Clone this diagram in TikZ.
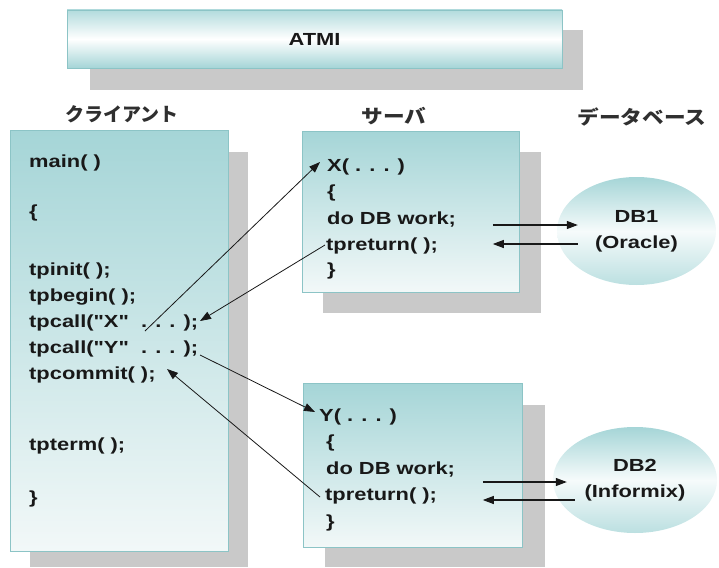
\documentclass[tikz,border=0pt]{standalone}
\usepackage{fontspec}
\setmainfont{Liberation Sans}
\newfontfamily\codefont{Liberation Sans}[FakeStretch=1.25]
\newfontfamily\jpfont{Noto Sans CJK JP}
\usetikzlibrary{arrows.meta,shapes.geometric,calc}

\definecolor{tealedge}{RGB}{140,196,198}
\definecolor{tealfill}{RGB}{165,213,215}
\definecolor{palefill}{RGB}{242,248,248}
\definecolor{shadowgray}{RGB}{201,201,201}
\definecolor{ink}{RGB}{24,24,24}

\begin{document}
\begin{tikzpicture}[x=1pt,y=-1pt,
  shadowbox/.style={fill=shadowgray,draw=none},
  panel/.style={rectangle,draw=tealedge,line width=0.7pt,inner sep=0pt,
    top color=tealfill,bottom color=palefill},
  banner/.style={rectangle,draw=tealedge,line width=0.7pt,inner sep=0pt,
    top color=tealfill!85,bottom color=tealfill,middle color=white,
    font=\codefont\bfseries\fontsize{17.5}{20}\selectfont,text=ink},
  dbnode/.style={ellipse,draw=none,inner sep=0pt,
    top color=tealfill,bottom color=tealfill!75,middle color=white!90!tealfill,
    align=center,font=\codefont\bfseries\fontsize{17.5}{26}\selectfont,text=ink},
  code/.style={anchor=base west,inner sep=0pt,
    font=\codefont\bfseries\fontsize{17.5}{20}\selectfont,text=ink},
  heading/.style={inner sep=0pt,font=\jpfont\bfseries\fontsize{19}{22}\selectfont,text=ink!90},
  link/.style={draw=ink,line width=0.8pt,-{Triangle[length=11pt,width=8pt]}},
  dblink/.style={link,line width=1.1pt},
]
\useasboundingbox (0,0) rectangle (719,567);

% shadows behind the boxes
\fill[shadowbox] (90,30) rectangle (583,90);
\fill[shadowbox] (30,152) rectangle (248,567);
\fill[shadowbox] (323,152) rectangle (541,313);
\fill[shadowbox] (325,405) rectangle (545,567);

% ATMI layer
\node[banner,minimum width=495,minimum height=58] (atmi) at (314.5,39) {ATMI};

% column headings
\node[heading] (hclient) at (122,114) {クライアント};
\node[heading] (hserver) at (394,116) {\scalebox{1.14}[1]{サーバ}};
\node[heading] (hdb) at (642,117) {\scalebox{1.14}[1]{データベース}};

% client program
\node[panel,minimum width=218,minimum height=421] (client) at (119,340.5) {};
\node[code] (cmain) at (29,167) {main( )};
\node[code] (copen) at (29,217) {\{};
\node[code] (cinit) at (29,275) {tpinit( );};
\node[code] (cbegin) at (29,301) {tpbegin( );};
\node[code] (cx) at (29,327) {tpcall("X"\ \ . . . );};
\node[code] (cy) at (29,353) {tpcall("Y"\ \ . . . );};
\node[code] (ccommit) at (29,379) {tpcommit( );};
\node[code] (cterm) at (29,450) {tpterm( );};
\node[code] (cclose) at (29,503) {\}};

% server X
\node[panel,minimum width=217,minimum height=161] (srvx) at (410.5,211.5) {};
\node[code] (sx1) at (327,171) {X( . . . )};
\node[code] (sx2) at (327,197) {\{};
\node[code] (sx3) at (327,224) {do DB work;};
\node[code] (sx4) at (326,250) {tpreturn( );};
\node[code] (sx5) at (327,275) {\}};

% server Y
\node[panel,minimum width=219,minimum height=164] (srvy) at (412.5,465) {};
\node[code] (sy1) at (319,421) {Y( . . . )};
\node[code] (sy2) at (326,447) {\{};
\node[code] (sy3) at (326,474) {do DB work;};
\node[code] (sy4) at (325,500) {tpreturn( );};
\node[code] (sy5) at (326,527) {\}};

% databases
\node[dbnode,minimum width=159,minimum height=108] (db1) at (636.5,231) {DB1\\(Oracle)};
\node[dbnode,minimum width=164,minimum height=106] (db2) at (635,480) {DB2\\(Informix)};

% server <-> database traffic
\draw[dblink] ($(db1.west)+(-64,-6)$) -- ($(db1.west)+(21,-6)$);
\draw[dblink] ($(db1.west)+(21,13)$) -- ($(db1.west)+(-64,13)$);
\draw[dblink] ($(db2.west)+(-70,2)$) -- ($(db2.west)+(14,2)$);
\draw[dblink] ($(db2.west)+(22,20)$) -- ($(db2.west)+(-70,20)$);

% client <-> server calls and returns
\draw[link] ($(cx.base west)+(116,4)$) -- ($(sx1.base west)+(-7,-9)$);
\draw[link] ($(sx4.base west)+(-1,-5)$) -- ($(cx.base west)+(171,-6)$);
\draw[link] ($(cy.base west)+(171,2)$) -- ($(sy1.base west)+(-4,-9)$);
\draw[link] ($(sy4.base west)+(-5,-3)$) -- ($(cy.base west)+(138,16)$);
\end{tikzpicture}
\end{document}
